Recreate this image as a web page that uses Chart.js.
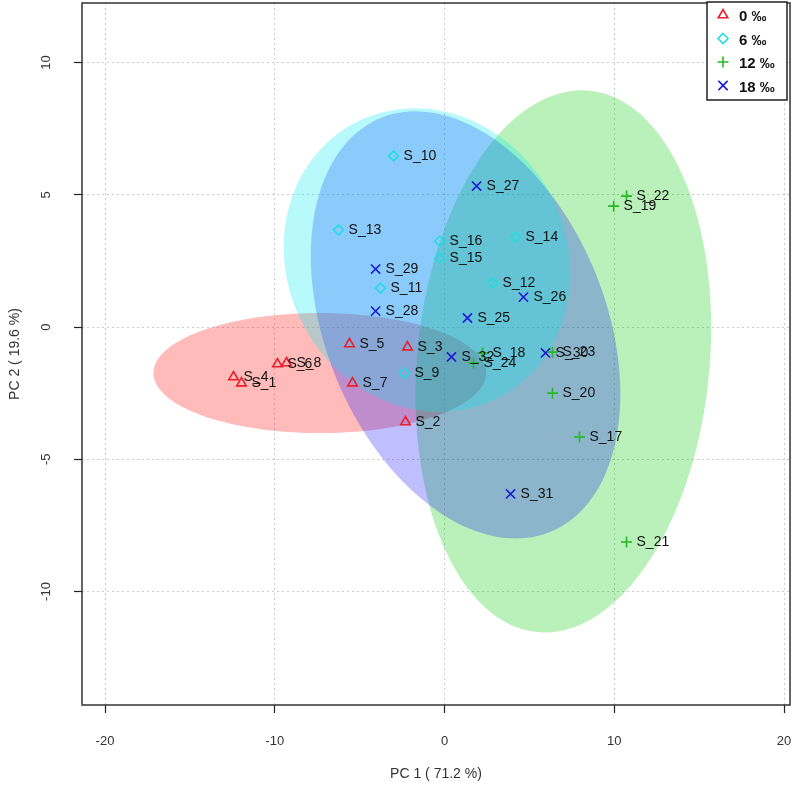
<!DOCTYPE html>
<html lang="en">
<head>
  <meta charset="UTF-8" />
  <title>PCA score plot</title>
  <script src="https://cdn.jsdelivr.net/npm/chart.js"></script>
  <style>
    * { box-sizing: border-box; margin: 0; padding: 0; }
    html, body { width: 800px; height: 793px; background: #fff; overflow: hidden; }
    #wrap { position: relative; width: 800px; height: 793px; }
  </style>
</head>
<body>
  <div id="wrap"><canvas id="pca" width="800" height="793"></canvas></div>

  <script>
    // Groups (salinity) and tick labels
    const groups = ['0 ‰', '6 ‰', '12 ‰', '18 ‰'];
    const xTicks = [-20, -10, 0, 10, 20];
    const yTicks = [-10, -5, 0, 5, 10];

    // 0 ‰ samples
    const names0 = ['S_1', 'S_2', 'S_3', 'S_4', 'S_5', 'S_6', 'S_7', 'S_8'];
    const pc1_0 = [-11.96, -2.30, -2.18, -12.43, -5.60, -9.84, -5.42, -9.31];
    const pc2_0 = [-2.12, -3.59, -0.76, -1.89, -0.64, -1.40, -2.12, -1.36];

    // 6 ‰ samples
    const names6 = ['S_9', 'S_10', 'S_11', 'S_12', 'S_13', 'S_14', 'S_15', 'S_16'];
    const pc1_6 = [-2.36, -3.00, -3.77, 2.83, -6.24, 4.18, -0.29, -0.29];
    const pc2_6 = [-1.74, 6.47, 1.47, 1.66, 3.67, 3.40, 2.61, 3.25];

    // 12 ‰ samples
    const names12 = ['S_17', 'S_18', 'S_19', 'S_20', 'S_21', 'S_22', 'S_23', 'S_24'];
    const pc1_12 = [7.95, 2.24, 9.96, 6.36, 10.72, 10.72, 6.36, 1.71];
    const pc2_12 = [-4.16, -0.98, 4.57, -2.50, -8.13, 4.95, -0.95, -1.36];

    // 18 ‰ samples
    const names18 = ['S_25', 'S_26', 'S_27', 'S_28', 'S_29', 'S_30', 'S_31', 'S_32'];
    const pc1_18 = [1.35, 4.65, 1.89, -4.06, -4.06, 5.95, 3.89, 0.41];
    const pc2_18 = [0.34, 1.13, 5.33, 0.60, 2.19, -0.98, -6.31, -1.13];

    // Confidence ellipses per group (centre, semi-axes, tilt in degrees), in PC units
    const ellCx = [-7.35, -1.03, 7.0, 1.24];
    const ellCy = [-1.74, 2.53, -1.3, 0.08];
    const ellA = [9.8, 8.47, 10.43, 9.98];
    const ellB = [2.27, 5.70, 8.49, 6.98];
    const ellAngle = [0, -6.1, 71.4, -34.7];

    const ellFill = ['rgba(255,0,0,0.27)', 'rgba(0,235,240,0.28)', 'rgba(0,205,0,0.27)', 'rgba(0,0,255,0.25)'];
    const drawOrder = [0, 2, 3, 1];
    const markColor = ['#e8202a', '#22dde0', '#22bb22', '#1a1ad8'];
    const markStyle = ['triangle', 'rectRot', 'cross', 'crossRot'];
    const markRadius = [5.5, 5, 5.5, 6.5];

    const toPoints = (xs, ys) => xs.map((v, i) => ({ x: v, y: ys[i] }));
    const allNames = [names0, names6, names12, names18];

    const ellipsePlugin = {
      id: 'ellipses',
      beforeDatasetsDraw(chart) {
        const { ctx, chartArea: a, scales: { x, y } } = chart;
        ctx.save();
        ctx.beginPath();
        ctx.rect(a.left, a.top, a.right - a.left, a.bottom - a.top);
        ctx.clip();
        drawOrder.forEach(i => {
          const rad = ellAngle[i] * Math.PI / 180;
          ctx.beginPath();
          for (let k = 0; k <= 160; k++) {
            const t = k / 160 * 2 * Math.PI;
            const u = ellA[i] * Math.cos(t), v = ellB[i] * Math.sin(t);
            const px = x.getPixelForValue(ellCx[i] + u * Math.cos(rad) - v * Math.sin(rad));
            const py = y.getPixelForValue(ellCy[i] + u * Math.sin(rad) + v * Math.cos(rad));
            if (k === 0) ctx.moveTo(px, py); else ctx.lineTo(px, py);
          }
          ctx.closePath();
          ctx.fillStyle = ellFill[i];
          ctx.fill();
        });
        ctx.restore();
      }
    };

    // sample names next to each point
    const labelPlugin = {
      id: 'sampleLabels',
      afterDatasetsDraw(chart) {
        const { ctx } = chart;
        ctx.save();
        ctx.font = '14px "Liberation Sans", Arial, sans-serif';
        ctx.fillStyle = '#111';
        ctx.textAlign = 'left';
        ctx.textBaseline = 'middle';
        chart.data.datasets.forEach((ds, di) => {
          chart.getDatasetMeta(di).data.forEach((pt, i) => {
            ctx.fillText(allNames[di][i], pt.x + 10, pt.y);
          });
        });
        ctx.restore();
      }
    };

    function drawMarker(ctx, style, x, y, r) {
      ctx.beginPath();
      if (style === 'triangle') {
        for (let k = 0; k < 3; k++) {
          const ang = k * 2 * Math.PI / 3;
          const px = x + Math.sin(ang) * r, py = y - Math.cos(ang) * r;
          if (k === 0) ctx.moveTo(px, py); else ctx.lineTo(px, py);
        }
        ctx.closePath();
      } else if (style === 'rectRot') {
        ctx.moveTo(x, y - r); ctx.lineTo(x + r, y); ctx.lineTo(x, y + r); ctx.lineTo(x - r, y); ctx.closePath();
      } else if (style === 'cross') {
        ctx.moveTo(x - r, y); ctx.lineTo(x + r, y); ctx.moveTo(x, y - r); ctx.lineTo(x, y + r);
      } else {
        const d = r * Math.SQRT1_2;
        ctx.moveTo(x - d, y - d); ctx.lineTo(x + d, y + d); ctx.moveTo(x + d, y - d); ctx.lineTo(x - d, y + d);
      }
      ctx.stroke();
    }

    // plot box and legend
    const framePlugin = {
      id: 'frame',
      afterDraw(chart) {
        const { ctx, chartArea: a } = chart;
        ctx.save();
        ctx.strokeStyle = '#333';
        ctx.lineWidth = 1.5;
        ctx.strokeRect(a.left, a.top, a.right - a.left, a.bottom - a.top);

        // legend box
        const lx = 707, ly = 2, lw = 80, lh = 98;
        ctx.fillStyle = '#fff';
        ctx.fillRect(lx, ly, lw, lh);
        ctx.strokeStyle = '#222';
        ctx.lineWidth = 1.5;
        ctx.strokeRect(lx, ly, lw, lh);
        ctx.font = 'bold 15px "Liberation Sans", Arial, sans-serif';
        ctx.textBaseline = 'middle';
        groups.forEach((g, i) => {
          const yy = 15 + i * 23.5;
          ctx.strokeStyle = markColor[i];
          ctx.lineWidth = 1.6;
          drawMarker(ctx, markStyle[i], 723, yy, markRadius[i]);
          ctx.fillStyle = '#111';
          ctx.fillText(g, 739, yy + 2);
        });
        ctx.restore();
      }
    };

    const tickFont = { family: '"Liberation Sans", Arial, sans-serif', size: 13 };
    const titleFont = { family: '"Liberation Sans", Arial, sans-serif', size: 14 };

    new Chart(document.getElementById('pca'), {
      type: 'scatter',
      data: {
        datasets: [
          { label: groups[0], data: toPoints(pc1_0, pc2_0) },
          { label: groups[1], data: toPoints(pc1_6, pc2_6) },
          { label: groups[2], data: toPoints(pc1_12, pc2_12) },
          { label: groups[3], data: toPoints(pc1_18, pc2_18) }
        ].map((ds, i) => Object.assign(ds, {
          pointStyle: markStyle[i],
          pointRadius: markRadius[i],
          pointBorderColor: markColor[i],
          pointBackgroundColor: 'rgba(0,0,0,0)',
          pointBorderWidth: 1.6,
          showLine: false
        }))
      },
      options: {
        responsive: false,
        maintainAspectRatio: false,
        animation: false,
        layout: { autoPadding: false, padding: { top: 3, right: 10, left: 0, bottom: 0 } },
        plugins: {
          legend: { display: false },
          tooltip: { enabled: false }
        },
        scales: {
          x: {
            type: 'linear',
            min: -21.355,
            max: 20.35,
            afterBuildTicks: s => { s.ticks = xTicks.map(v => ({ value: v })); },
            afterFit: s => { s.height = 88; s.paddingLeft = 0; s.paddingRight = 0; },
            grid: { color: '#cccccc', lineWidth: 1, tickLength: 8, tickColor: '#222', tickWidth: 1.2, tickBorderDash: [] },
            border: { display: false, dash: [2, 3] },
            ticks: { font: tickFont, color: '#333', padding: 21, maxRotation: 0 },
            title: { display: true, text: 'PC 1 ( 71.2 %)', font: titleFont, color: '#333', padding: { top: 0, bottom: 10 } }
          },
          y: {
            type: 'linear',
            min: -14.29,
            max: 12.25,
            afterBuildTicks: s => { s.ticks = yTicks.map(v => ({ value: v })); },
            afterFit: s => { s.width = 82; s.paddingTop = 0; s.paddingBottom = 0; },
            grid: { color: '#cccccc', lineWidth: 1, tickLength: 8, tickColor: '#222', tickWidth: 1.2, tickBorderDash: [] },
            border: { display: false, dash: [2, 3] },
            ticks: { font: tickFont, color: '#333', padding: 18, minRotation: 90, maxRotation: 90, crossAlign: 'center' },
            title: { display: true, text: 'PC 2 ( 19.6 %)', font: titleFont, color: '#333', padding: { top: 7, bottom: 0 } }
          }
        }
      },
      plugins: [ellipsePlugin, labelPlugin, framePlugin]
    });
  </script>
</body>
</html>
